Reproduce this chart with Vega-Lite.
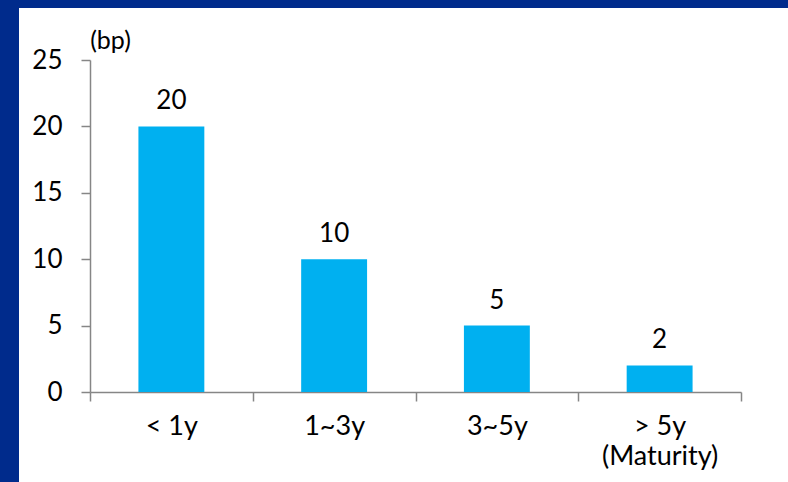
{
  "$schema": "https://vega.github.io/schema/vega-lite/v6.json",
  "autosize": "none",
  "width": 769,
  "height": 474,
  "padding": {"left": 19, "top": 8, "right": 0, "bottom": 0},
  "background": "#002B8C",
  "config": {
    "view": {"fill": "white", "stroke": null},
    "font": "Lato"
  },
  "data": {
    "values": [
      {"term": "< 1y", "bp": 20},
      {"term": "1~3y", "bp": 10},
      {"term": "3~5y", "bp": 5},
      {"term": "> 5y\n(Maturity)", "bp": 2}
    ]
  },
  "encoding": {
    "x": {
      "field": "term",
      "type": "nominal",
      "sort": null,
      "scale": {"range": [71, 722], "paddingInner": 0, "paddingOuter": 0},
      "axis": {
        "title": null,
        "offset": -90,
        "labelAngle": 0,
        "labelExpr": "split(datum.label, '\\n')",
        "labelFont": "Lato",
        "labelFontSize": 27,
        "labelColor": "#000000",
        "labelPadding": 12,
        "labelLineHeight": 30,
        "tickBand": "extent",
        "tickSize": 9,
        "tickColor": "#868686",
        "domainColor": "#868686",
        "tickWidth": 1.5,
        "domainWidth": 1.5
      }
    },
    "y": {
      "field": "bp",
      "type": "quantitative",
      "scale": {"domain": [0, 25], "range": [384, 52], "nice": false},
      "axis": {
        "title": "(bp)",
        "titleAngle": 0,
        "titleX": 20,
        "titleY": 40,
        "titleAlign": "center",
        "titleBaseline": "alphabetic",
        "titleFont": "Lato",
        "titleFontSize": 25,
        "titleFontWeight": "normal",
        "titleColor": "#000000",
        "offset": -71,
        "values": [0, 5, 10, 15, 20, 25],
        "grid": false,
        "labelFont": "Lato",
        "labelFontSize": 26,
        "labelColor": "#000000",
        "labelPadding": 19,
        "tickSize": 9,
        "tickColor": "#868686",
        "domainColor": "#868686",
        "tickWidth": 1.5,
        "domainWidth": 1.5
      }
    }
  },
  "layer": [
    {
      "mark": {"type": "bar", "color": "#00B0F0", "width": {"band": 0.405}}
    },
    {
      "mark": {"type": "text", "font": "Lato", "fontSize": 26, "color": "#000000", "baseline": "alphabetic", "dy": -17},
      "encoding": {"text": {"field": "bp", "type": "quantitative"}}
    }
  ]
}
